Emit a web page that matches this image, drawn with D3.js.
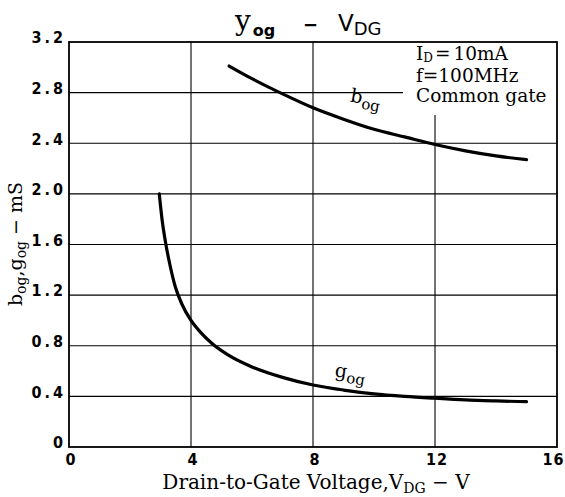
<!DOCTYPE html>
<html><head><meta charset="utf-8">
<script src="https://cdn.jsdelivr.net/npm/d3@7"></script>
<style>
body{margin:0;background:#fff;}
svg{display:block;}
.tick-lbl{font-family:"DejaVu Sans Condensed","DejaVu Sans",sans-serif;font-weight:bold;font-size:16px;fill:#000;}
.serif{font-family:"DejaVu Serif",serif;fill:#000;}
</style>
</head><body>
<svg id="c" width="565" height="497"></svg>
<script>
// data
const xTicks = [0, 4, 8, 12, 16];
const yTicks = [0, 0.4, 0.8, 1.2, 1.6, 2.0, 2.4, 2.8, 3.2];
const yTickLabels = ["0", "0.4", "0.8", "1.2", "1.6", "2.0", "2.4", "2.8", "3.2"];
const bogV = [5.25, 6, 7, 8, 9, 10, 11, 12, 13, 14, 15];
const bogY = [3.01, 2.91, 2.79, 2.68, 2.59, 2.51, 2.45, 2.39, 2.34, 2.30, 2.27];
const gogV = [2.96, 3.05, 3.17, 3.3, 3.48, 3.7, 4.0, 4.3, 4.68, 5.2, 5.93, 7, 8, 9, 10, 11, 12, 13, 14, 15];
const gogY = [2.0, 1.80, 1.61, 1.45, 1.27, 1.13, 1.00, 0.91, 0.82, 0.73, 0.64, 0.55, 0.49, 0.45, 0.42, 0.40, 0.385, 0.372, 0.364, 0.358];
const legendLines = ["10mA", "f=100MHz", "Common gate"];

const svg = d3.select("#c");
const L = 69, R = 557, T = 42, B = 447;
const x = d3.scaleLinear().domain([0, 16]).range([L, R]);
const y = d3.scaleLinear().domain([0, 3.2]).range([B, T]);

// legend region (grid hidden there)
const boxL = 403, boxB = 115;

const g = svg.append("g").attr("stroke", "#000").attr("stroke-width", 1.1);
yTicks.slice(1, -1).forEach(v => {
  const yy = y(v);
  const x2 = (yy < boxB) ? boxL : R;
  g.append("line").attr("x1", L).attr("x2", x2).attr("y1", yy).attr("y2", yy);
});
xTicks.slice(1, -1).forEach(v => {
  const xx = x(v);
  const y1 = (xx > boxL) ? boxB : T;
  g.append("line").attr("x1", xx).attr("x2", xx).attr("y1", y1).attr("y2", B);
});

// axes
const xAxis = d3.axisBottom(x).tickValues(xTicks).tickSize(0).tickFormat(d => d);
const xa = svg.append("g").attr("transform", `translate(0,${B})`).call(xAxis);
xa.select(".domain").remove();
xa.selectAll("text").attr("class", "tick-lbl").attr("font-size", null).attr("font-family", null)
  .attr("y", 7).attr("dy", "0.71em").attr("letter-spacing", "1px").attr("dx", "1.5");
xa.selectAll("text").filter(d => d === 16).attr("text-anchor", "end").attr("dx", 7);

const yAxis = d3.axisLeft(y).tickValues(yTicks).tickSize(0).tickFormat((d, i) => yTickLabels[i]);
const ya = svg.append("g").attr("transform", `translate(${L},0)`).call(yAxis);
ya.select(".domain").remove();
ya.selectAll("text").attr("class", "tick-lbl").attr("font-size", null).attr("font-family", null)
  .attr("letter-spacing", "3px").attr("x", -3).attr("dy", "0.05em");

// frame
svg.append("rect").attr("x", L).attr("y", T).attr("width", R - L).attr("height", B - T)
  .attr("fill", "none").attr("stroke", "#000").attr("stroke-width", 1.8);

// curves
const line = d3.line().x(d => x(d[0])).y(d => y(d[1])).curve(d3.curveMonotoneX);
const bog = bogV.map((v, i) => [v, bogY[i]]);
const gog = gogV.map((v, i) => [v, gogY[i]]);
svg.append("path").attr("d", line(bog)).attr("fill", "none").attr("stroke", "#000").attr("stroke-width", 3.2).attr("stroke-linecap", "round");
svg.append("path").attr("d", line(gog)).attr("fill", "none").attr("stroke", "#000").attr("stroke-width", 3.2).attr("stroke-linecap", "round");

// curve labels
const bl = svg.append("text").attr("class", "serif").attr("font-size", 19)
  .attr("transform", `translate(${x(9.2)},${y(2.73)}) rotate(10)`);
bl.append("tspan").text("b");
bl.append("tspan").attr("font-size", 15).attr("dy", 5).text("og");
const gl = svg.append("text").attr("class", "serif").attr("font-size", 19)
  .attr("transform", `translate(${x(8.7)},${y(0.56)}) rotate(8)`);
gl.append("tspan").text("g");
gl.append("tspan").attr("font-size", 15).attr("dy", 5).text("og");

// legend
const lg = svg.append("g").attr("class", "serif").attr("font-size", 18.5);
const t1 = lg.append("text").attr("x", 416).attr("y", 60);
t1.append("tspan").text("I");
t1.append("tspan").attr("font-size", 12).attr("dy", 2).text("D");
t1.append("tspan").attr("dy", -2).attr("dx", 2).text("=");
t1.append("tspan").attr("dx", 3).text(legendLines[0]);
lg.append("text").attr("x", 416).attr("y", 82).text(legendLines[1]);
lg.append("text").attr("x", 416).attr("y", 102).text(legendLines[2]);

// title
const tg = svg.append("g");
const ty = tg.append("text").attr("x", 235).attr("y", 30);
ty.append("tspan").attr("font-family", "DejaVu Serif, serif").attr("font-size", 28).text("y");
ty.append("tspan").attr("font-family", "DejaVu Sans, sans-serif").attr("font-weight", "bold").attr("font-size", 16).attr("dy", 6).attr("dx", 2).text("og");
tg.append("text").attr("x", 303).attr("y", 31).attr("font-family", "DejaVu Sans, sans-serif").attr("font-weight", "bold").attr("font-size", 18).text("−");
const tv = tg.append("text").attr("x", 338).attr("y", 31).attr("font-family", "DejaVu Sans, sans-serif").attr("font-size", 23);
tv.append("tspan").text("V");
tv.append("tspan").attr("font-size", 18).attr("dy", 4).text("DG");

// x axis title
const xt = svg.append("text").attr("class", "serif").attr("font-size", 20)
  .attr("x", 316).attr("y", 489).attr("text-anchor", "middle");
xt.append("tspan").text("Drain-to-Gate Voltage,V");
xt.append("tspan").attr("font-size", 14).attr("dy", 4).text("DG");
xt.append("tspan").attr("dy", -4).text(" − V");

// y axis title
const yt = svg.append("text").attr("class", "serif").attr("font-size", 19)
  .attr("transform", `translate(22,244) rotate(-90)`).attr("text-anchor", "middle");
yt.append("tspan").text("b");
yt.append("tspan").attr("font-size", 14).attr("dy", 4).text("og");
yt.append("tspan").attr("dy", -4).text(",g");
yt.append("tspan").attr("font-size", 14).attr("dy", 4).text("og");
yt.append("tspan").attr("dy", -4).text(" − mS");
</script>
</body></html>
